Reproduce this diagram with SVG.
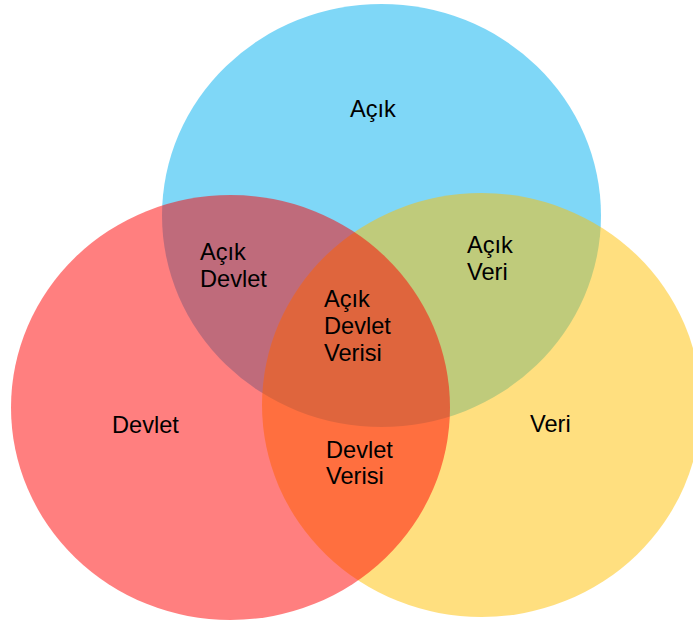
<svg xmlns="http://www.w3.org/2000/svg" width="693" height="622" viewBox="0 0 693 622">
  <style>
    .set { fill-opacity: 0.5; stroke: none; }
    .lbl { font-family: "Liberation Sans", Arial, sans-serif; font-size: 23.6px; fill: #000; }
  </style>
  <rect width="693" height="622" fill="#ffffff"/>
  <!-- three overlapping sets, drawn back to front -->
  <g id="set-acik">
    <ellipse class="set" cx="381.5" cy="215.5" rx="219.5" ry="211.5" fill="#00B0F0"/>
  </g>
  <g id="set-veri">
    <ellipse class="set" cx="481.5" cy="405" rx="219.5" ry="212" fill="#FFC000"/>
  </g>
  <g id="set-devlet">
    <ellipse class="set" cx="230.5" cy="407.5" rx="219.5" ry="212.5" fill="#FF0000"/>
  </g>
  <!-- region labels -->
  <g id="label-acik"><text class="lbl" x="350" y="116.5">Açık</text></g>
  <g id="label-devlet"><text class="lbl" x="112" y="432.5">Devlet</text></g>
  <g id="label-veri"><text class="lbl" x="530" y="431.5">Veri</text></g>
  <g id="label-acik-devlet">
    <text class="lbl" x="200" y="259.5">Açık</text>
    <text class="lbl" x="200" y="286.5">Devlet</text>
  </g>
  <g id="label-acik-veri">
    <text class="lbl" x="467" y="252.5">Açık</text>
    <text class="lbl" x="467" y="280">Veri</text>
  </g>
  <g id="label-acik-devlet-verisi">
    <text class="lbl" x="324" y="306.5">Açık</text>
    <text class="lbl" x="324" y="334">Devlet</text>
    <text class="lbl" x="324" y="361">Verisi</text>
  </g>
  <g id="label-devlet-verisi">
    <text class="lbl" x="326" y="458">Devlet</text>
    <text class="lbl" x="326" y="484">Verisi</text>
  </g>
</svg>
